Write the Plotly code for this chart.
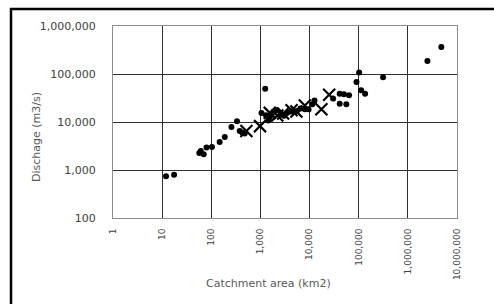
import plotly.graph_objects as go

# Data
dot_area = [12, 17.5, 57, 61, 70, 80, 103, 148, 188, 257, 334, 379, 430, 479,
            1050, 1250, 1300, 1450, 1550, 1700, 2100, 2600, 3000, 3500, 4200, 5500,
            6500, 8000, 9500, 11400, 12600,
            30000, 41000, 50000, 63500, 41000, 56000, 90000, 102000, 112000, 135000,
            313000, 2500000, 4800000]
dot_discharge = [740, 800, 2260, 2490, 2120, 2930, 3010, 3830, 4870, 7870, 10360, 6500, 6000, 5730,
                 15400, 49400, 13800, 10800, 12500, 14500, 17500, 15000, 13500, 15500, 16500, 17000,
                 19000, 18500, 18500, 23500, 28000,
                 30700, 39000, 37800, 36000, 24100, 23500, 68000, 108000, 45700, 38900,
                 85300, 186600, 365000]

cross_area = [519, 980, 1550, 2200, 2900, 4300, 5400, 8000, 17400, 25000]
cross_discharge = [6500, 8200, 15500, 13600, 15000, 17500, 16500, 22000, 18500, 37000]

x_tickvals = [1, 10, 100, 1000, 10000, 100000, 1000000, 10000000]
x_ticktext = ["1", "10", "100", "1,000", "10,000", "100,000", "1,000,000", "10,000,000"]
y_tickvals = [100, 1000, 10000, 100000, 1000000]
y_ticktext = ["100", "1,000", "10,000", "100,000", "1,000,000"]

x_title = "Catchment area (km2)"
y_title = "Dischage (m3/s)"

W, H = 494, 304
ML, MR, MT, MB = 113, 37, 26, 86
PW, PH = W - ML - MR, H - MT - MB

def px_x(p):
    return (p - ML) / PW

def px_y(p):
    return (H - MB - p) / PH

fig = go.Figure()
fig.add_trace(go.Scatter(
    x=dot_area, y=dot_discharge, mode="markers",
    marker=dict(symbol="circle", size=6, color="black"),
    showlegend=False, cliponaxis=False))
fig.add_trace(go.Scatter(
    x=cross_area, y=cross_discharge, mode="markers",
    marker=dict(symbol="x-thin", size=12, line=dict(width=2.2, color="black"), color="black"),
    showlegend=False, cliponaxis=False))

axis_common = dict(
    type="log", showgrid=True, gridcolor="#303030", gridwidth=1,
    showline=True, linecolor="#8c8c8c", linewidth=1, mirror=True,
    zeroline=False, ticks="",
)

fig.update_xaxes(
    range=[0, 7], tickvals=x_tickvals, ticktext=x_ticktext, tickangle=-90,
    tickfont=dict(family="DejaVu Sans", size=9, color="#404040"),
    ticklabelstandoff=6,
    **axis_common)
fig.update_yaxes(
    range=[2, 6], tickvals=y_tickvals, ticktext=y_ticktext,
    tickfont=dict(family="DejaVu Sans", size=11, color="#404040"),
    ticklabelstandoff=14,
    **axis_common)

fig.add_annotation(
    text=x_title, xref="paper", yref="paper",
    x=px_x(268), y=px_y(283), showarrow=False,
    xanchor="center", yanchor="middle",
    font=dict(family="DejaVu Sans", size=11, color="#595959"))
fig.add_annotation(
    text=y_title, xref="paper", yref="paper",
    x=px_x(36), y=px_y(137), showarrow=False, textangle=-90,
    xanchor="center", yanchor="middle",
    font=dict(family="DejaVu Sans", size=11, color="#595959"))

# Outer frame (only top and left edges are visible in the crop)
fig.add_shape(type="line", xref="paper", yref="paper",
              x0=px_x(10), x1=px_x(W), y0=px_y(9), y1=px_y(9),
              line=dict(color="black", width=2.5), layer="above")
fig.add_shape(type="line", xref="paper", yref="paper",
              x0=px_x(11), x1=px_x(11), y0=px_y(8), y1=px_y(H),
              line=dict(color="black", width=2.5), layer="above")

fig.update_layout(
    width=W, height=H,
    margin=dict(l=ML, r=MR, t=MT, b=MB),
    paper_bgcolor="white", plot_bgcolor="white",
    font=dict(family="DejaVu Sans"),
)

fig.write_html("out.html",
               config={"displayModeBar": False},
               post_script="document.body.style.margin='0px';document.body.style.overflow='hidden';")
